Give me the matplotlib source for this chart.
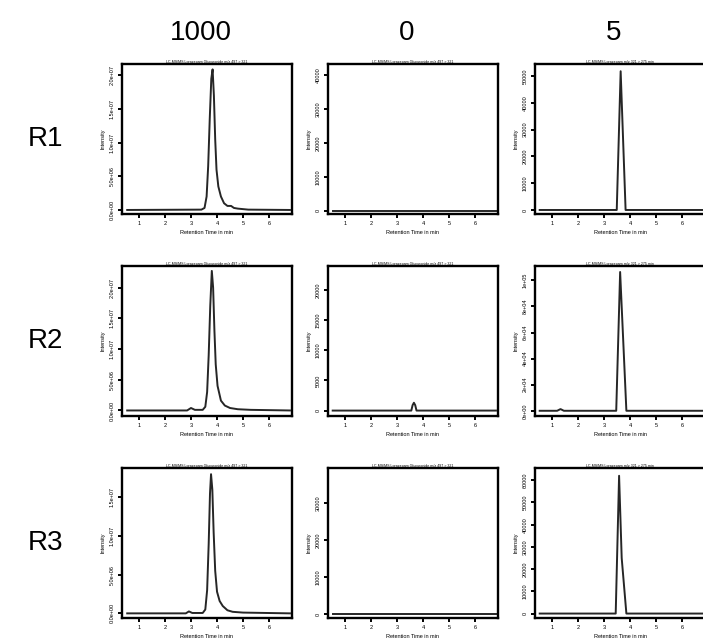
import matplotlib
matplotlib.use("Agg")
import matplotlib.pyplot as plt

plt.rcParams['font.family'] = ['Liberation Sans', 'DejaVu Sans']

col_labels = ['1000', '0', '5']
row_labels = ['R1', 'R2', 'R3']

# retention time (min) / intensity
t_r1_1000 = [0.55, 3.40, 3.52, 3.60, 3.66, 3.72, 3.78, 3.83, 3.88, 3.93, 3.98, 4.05, 4.15, 4.27, 4.40, 4.54, 4.65, 4.80, 5.20, 6.80]
i_r1_1000 = [0.0, 0.05e6, 0.3e6, 2.0e6, 6.5e6, 13.5e6, 19.5e6, 20.9e6, 17.0e6, 10.5e6, 6.0e6, 3.5e6, 2.0e6, 1.0e6, 0.6e6, 0.6e6, 0.3e6, 0.2e6, 0.05e6, 0.0]

t_r1_0 = [0.53, 6.80]
i_r1_0 = [0, 0]

t_r1_5 = [0.53, 3.49, 3.64, 3.83, 6.80]
i_r1_5 = [0, 0, 51800, 0, 0]

t_r2_1000 = [0.55, 2.85, 3.00, 3.15, 3.45, 3.55, 3.62, 3.68, 3.74, 3.80, 3.85, 3.90, 3.95, 4.02, 4.15, 4.30, 4.50, 4.80, 5.30, 6.80]
i_r2_1000 = [0.0, 0.0, 0.4e6, 0.1e6, 0.1e6, 0.6e6, 3.0e6, 9.0e6, 17.0e6, 22.7e6, 20.0e6, 13.0e6, 7.5e6, 4.0e6, 1.6e6, 0.8e6, 0.4e6, 0.2e6, 0.1e6, 0.0]

t_r2_0 = [0.53, 3.55, 3.60, 3.65, 3.70, 3.75, 6.80]
i_r2_0 = [0, 0, 900, 1300, 900, 0, 0]

t_r2_5 = [0.53, 1.20, 1.33, 1.46, 3.47, 3.62, 3.86, 6.80]
i_r2_5 = [0, 0, 1300, 0, 0, 106400, 0, 0]

t_r3_1000 = [0.55, 2.80, 2.92, 3.05, 3.45, 3.55, 3.62, 3.68, 3.73, 3.77, 3.82, 3.87, 3.93, 4.00, 4.10, 4.22, 4.40, 4.60, 5.00, 6.80]
i_r3_1000 = [0.0, 0.0, 0.25e6, 0.05e6, 0.05e6, 0.5e6, 3.0e6, 9.0e6, 15.5e6, 18.0e6, 16.0e6, 10.5e6, 5.5e6, 2.8e6, 1.6e6, 0.95e6, 0.4e6, 0.2e6, 0.1e6, 0.0]

t_r3_0 = [0.53, 6.80]
i_r3_0 = [0, 0]

t_r3_5 = [0.53, 3.45, 3.58, 3.68, 3.86, 6.80]
i_r3_5 = [0, 0, 62000, 25000, 0, 0]

# y ticks and labels per panel
yt_1000_a = [0, 5e6, 1e7, 1.5e7, 2e7]
yl_1000_a = ['0.0e+00', '5.0e+06', '1.0e+07', '1.5e+07', '2.0e+07']
yt_1000_b = [0, 5e6, 1e7, 1.5e7]
yl_1000_b = ['0.0e+00', '5.0e+06', '1.0e+07', '1.5e+07']
yt_r1_0 = [0, 10000, 20000, 30000, 40000]
yt_r1_5 = [0, 10000, 20000, 30000, 40000, 50000]
yt_r2_0 = [0, 5000, 10000, 15000, 20000]
yt_r2_5 = [0, 2e4, 4e4, 6e4, 8e4, 1e5]
yl_r2_5 = ['0e+00', '2e+04', '4e+04', '6e+04', '8e+04', '1e+05']
yt_r3_0 = [0, 10000, 20000, 30000]
yt_r3_5 = [0, 10000, 20000, 30000, 40000, 50000, 60000]
xt = [1, 2, 3, 4, 5, 6]

titles = ['LC-MS/MS Lorazepam Glucuronide m/z 497 > 321',
          'LC-MS/MS Lorazepam Glucuronide m/z 497 > 321',
          'LC-MS/MS Lorazepam m/z 321 > 275 min']

panels = [
    [(t_r1_1000, i_r1_1000, yt_1000_a, yl_1000_a, (-0.6e6, 21.7e6)),
     (t_r1_0, i_r1_0, yt_r1_0, [str(v) for v in yt_r1_0], (-1000, 43300)),
     (t_r1_5, i_r1_5, yt_r1_5, [str(v) for v in yt_r1_5], (-1500, 54500))],
    [(t_r2_1000, i_r2_1000, yt_1000_a, yl_1000_a, (-0.9e6, 23.5e6)),
     (t_r2_0, i_r2_0, yt_r2_0, [str(v) for v in yt_r2_0], (-900, 24000)),
     (t_r2_5, i_r2_5, yt_r2_5, yl_r2_5, (-4000, 111000))],
    [(t_r3_1000, i_r3_1000, yt_1000_b, yl_1000_b, (-0.6e6, 18.8e6)),
     (t_r3_0, i_r3_0, yt_r3_0, [str(v) for v in yt_r3_0], (-1000, 39500)),
     (t_r3_5, i_r3_5, yt_r3_5, [str(v) for v in yt_r3_5], (-2000, 65500))],
]

W, H = 703, 642
fig = plt.figure(figsize=(W / 100, H / 100), dpi=100)

lefts = [122, 328, 535]
tops = [64, 266, 468]
pw, ph = 170, 150

for r in range(3):
    for c in range(3):
        t, y, yt, yl, ylim = panels[r][c]
        ax = fig.add_axes([lefts[c] / W, 1 - (tops[r] + ph) / H, pw / W, ph / H])
        ax.plot(t, y, color='#262626', lw=1.4)
        ax.set_xlim(0.35, 6.88)
        ax.set_ylim(*ylim)
        ax.set_xticks(xt)
        ax.set_xticklabels([str(v) for v in xt])
        ax.set_yticks(yt)
        ax.set_yticklabels(yl)
        for lab in ax.get_yticklabels():
            lab.set_rotation(90)
            lab.set_va('center')
        for s in ax.spines.values():
            s.set_linewidth(1.7)
        ax.tick_params(direction='out', length=3, width=1.4, labelsize=4, pad=2)
        ax.set_ylabel('Intensity', fontsize=4, labelpad=3)
        ax.set_xlabel('Retention Time in min', fontsize=4, labelpad=3)
        ax.set_title(titles[c], fontsize=2.6, pad=1)

for c in range(3):
    fig.text((lefts[c] + pw / 2 - 6) / W, 1 - 33 / H, col_labels[c],
             fontsize=20, ha='center', va='center')
for r in range(3):
    fig.text(45 / W, 1 - (tops[r] + ph / 2) / H, row_labels[r],
             fontsize=20, ha='center', va='center')

fig.savefig('out.png', dpi=100)
